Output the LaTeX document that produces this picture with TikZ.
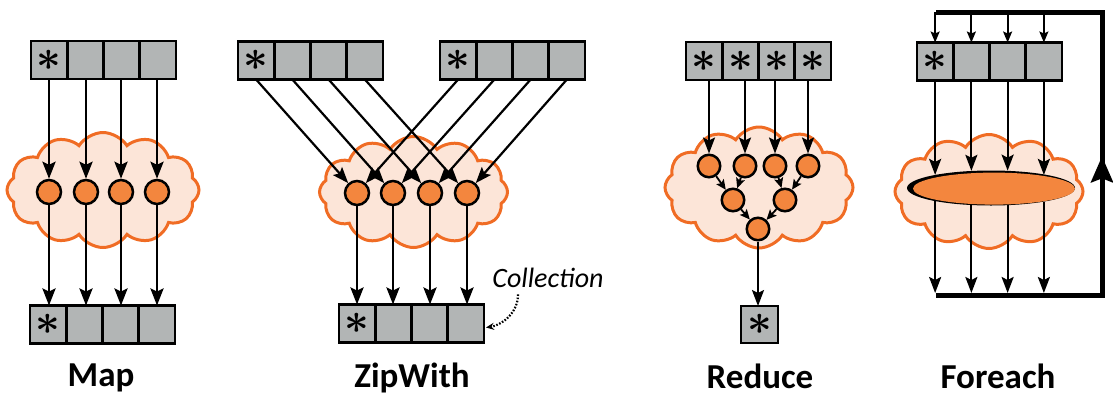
\documentclass[tikz,border=0pt]{standalone}
\usepackage{amsmath}
\usepackage{graphicx}
\usepackage{fontspec}
\setmainfont{Carlito}
\usetikzlibrary{shapes.symbols,shapes.geometric,arrows.meta,calc}

\definecolor{cellgray}{RGB}{178,181,181}
\definecolor{cloudfill}{RGB}{252,229,216}
\definecolor{cloudline}{RGB}{240,108,36}
\definecolor{dotfill}{RGB}{243,134,62}

\newcommand\starsym{\scalebox{4.3}{$\boldsymbol{\ast}$}}

% a row of four collection cells: name, left edge, centre y, number of filled cells
\newcommand\cellrow[4]{%
  \foreach \k in {1,...,4}{%
    \node[cell] (#1-\k) at ({#2+18.125+(\k-1)*36.25}, #3)
      {\ifnum\k>#4\relax\else\starsym\fi};
  }%
}

\tikzset{
  cell/.style={draw=black, fill=cellgray, line width=2.6pt,
    minimum width=36.25pt, minimum height=38pt, inner sep=0pt, outer sep=0pt},
  blob/.style={cloud, cloud puffs=12, cloud puff arc=115, cloud ignores aspect,
    draw=cloudline, fill=cloudfill, line width=3pt, inner sep=0pt},
  dot/.style={circle, draw=black, fill=dotfill, line width=2.5pt,
    minimum size=24pt, inner sep=0pt},
  smalldot/.style={dot, minimum size=22.5pt},
  flow/.style={line width=2.8pt, -{Stealth[length=17pt,width=13pt,inset=3pt]}},
  thinflow/.style={line width=2.2pt, -{Stealth[length=16pt,width=12pt,inset=3pt]}},
  tinyflow/.style={line width=1.8pt, -{Stealth[length=10pt,width=9pt,inset=2pt]}},
  feedflow/.style={line width=1.8pt, -{Stealth[length=11pt,width=9pt,inset=2pt]}},
  frame/.style={line width=5pt, line join=miter},
  title/.style={anchor=base, inner sep=0pt, font=\fontsize{35}{35}\selectfont\bfseries},
  note/.style={font=\fontsize{28}{28}\selectfont\itshape},
}

\begin{document}
\begin{tikzpicture}[x=1pt, y=-1pt]
\useasboundingbox (0,0) rectangle (1113,394);

% ---------------- Map ----------------
\node[blob, minimum width=192pt, minimum height=115pt] (mc) at (103,190) {};
\cellrow{mi}{31}{60}{1}
\cellrow{mo}{30}{324.5}{1}
\foreach \k/\x in {1/49,2/86,3/121,4/157}
  \node[dot] (md-\k) at (\x,192) {};
\foreach \k in {1,...,4}{
  \draw[flow] (md-\k.north |- mi-\k.south) -- (md-\k.north);
  \draw[flow] (md-\k.south) -- (md-\k.south |- mo-\k.north);
}
\node[title] (mt) at (101,386) {Map};

% ---------------- ZipWith ----------------
\node[blob, minimum width=188pt, minimum height=111pt] (zc) at (413.5,192) {};
\cellrow{zl}{238}{60.5}{1}
\cellrow{zr}{440}{60.5}{1}
\cellrow{zo}{339}{323.5}{1}
\foreach \k/\x in {1/357,2/393,3/430,4/467}
  \node[dot] (zd-\k) at (\x,193) {};
\foreach \k in {1,...,4}{
  \draw[thinflow] (zl-\k.south) -- (zd-\k);
  \draw[thinflow] (zr-\k.south) -- (zd-\k);
  \draw[flow] (zd-\k.south) -- (zd-\k.south |- zo-\k.north);
}
\node[note] (coll) at (548,278) {Collection};
\coordinate (collfoot) at ($(coll.south)+(-30,3)$);
\coordinate (colltip) at ($(zo-4.east)+(2,4)$);
\draw[line width=2.2pt, dash pattern=on 1.6pt off 1.6pt, -{Stealth[length=8pt,width=7pt]}]
  (collfoot) .. controls +(0,20) and +(14,-2) .. (colltip);
\node[title] (zt) at (412,387) {ZipWith};

% ---------------- Reduce ----------------
\node[blob, minimum width=188pt, minimum height=121pt] (rc) at (759,187.5) {};
\cellrow{ri}{686}{61}{4}
\foreach \k/\x/\y in {1/709/166,2/745/166,3/775/166,4/808/166,
                      5/733/200,6/785/200,7/758/229}
  \node[smalldot] (rd-\k) at (\x,\y) {};
\foreach \k in {1,...,4}
  \draw[thinflow] (rd-\k.north |- ri-\k.south) -- (rd-\k.north);
\foreach \a/\b in {1/5,2/5,3/6,4/6,5/7,6/7}
  \draw[tinyflow] (rd-\a) -- (rd-\b);
\node[cell, minimum width=37pt, minimum height=37pt] (rr) at (759.5,324.5) {\starsym};
\draw[thinflow] (rd-7.south) -- (rd-7.south |- rr.north);
\node[title] (rt) at (760,388) {Reduce};

% ---------------- Foreach ----------------
\node[blob, minimum width=188pt, minimum height=114pt] (fc) at (989,191.5) {};
\cellrow{fa}{917}{61.5}{1}
% disc with a dark rim, heavier on its left end
\node[ellipse, fill=black, minimum width=168pt, minimum height=35pt, inner sep=0pt]
  (fe) at (991,188) {};
\node[ellipse, fill=dotfill, minimum width=162pt, minimum height=32pt, inner sep=0pt]
  (fe-in) at (994,188.6) {};
\coordinate (ftl) at (935.5,12);
\coordinate (ftr) at (1102,12);
\coordinate (fbr) at (1102,295);
\coordinate (fbl) at (935.5,295);
\draw[frame] (fbl) -- (fbr) -- (ftr) -- (ftl);
\draw[line width=5pt, -{Stealth[length=26pt,width=22pt,inset=4pt]}]
  (fbr) -- ($(fbr)!0.49!(ftr)$);
\foreach \k/\up/\dn in {1/167.7/192.3, 2/140.5/219.5, 3/46.2/313.8, 4/13.9/346.1}{
  \draw[feedflow] (fa-\k.north |- ftl) -- (fa-\k.north);
  \draw[thinflow] (fa-\k.south) -- (fa-\k.south |- fe.\up);
  \draw[thinflow, shorten >=2pt] (fa-\k.south |- fe.\dn) -- (fa-\k.south |- fbl);
}
\node[title] (ft) at (998,388) {Foreach};
\end{tikzpicture}
\end{document}
